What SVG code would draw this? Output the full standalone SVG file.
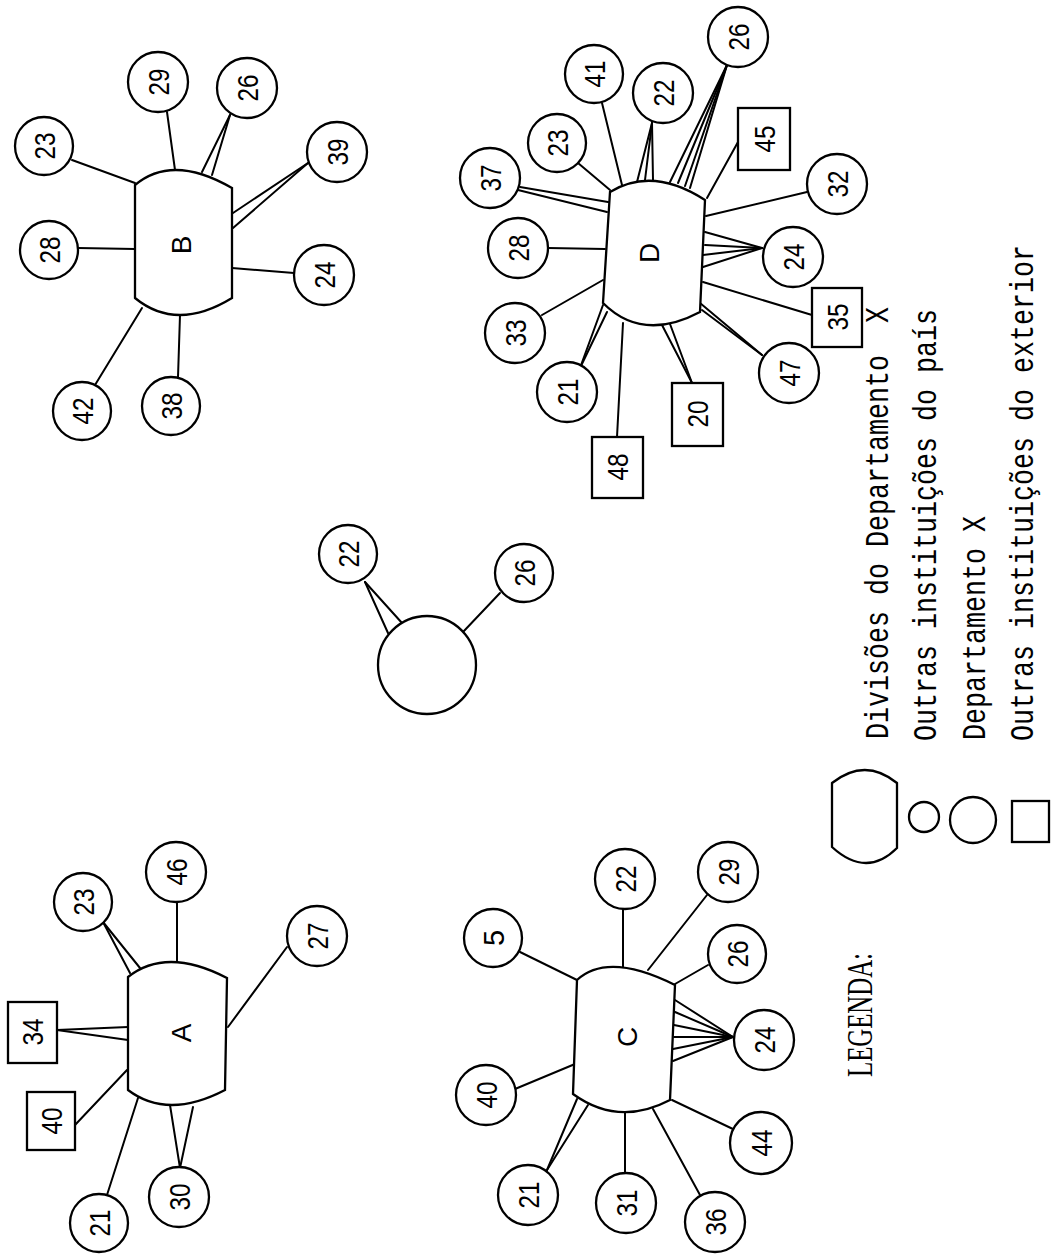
<svg xmlns="http://www.w3.org/2000/svg" width="1057" height="1257" viewBox="0 0 1057 1257">
<style>
.bg{fill:#fff}
.s{fill:#fff;stroke:#000;stroke-width:2.3}
.c line{stroke:#000;stroke-width:2;stroke-linecap:round}
.n{font-family:"Liberation Sans Narrow","Liberation Sans",Arial,sans-serif;font-size:29px;text-anchor:middle;fill:#000}
.d{font-family:"Liberation Sans",Arial,sans-serif;font-size:28px;text-anchor:middle;fill:#000}
.lg{font-family:"Liberation Serif","Times New Roman",serif;font-size:36px;fill:#000}
.lt{font-family:"Liberation Mono","Courier New",monospace;font-size:34px;fill:#000;white-space:pre}
</style>
<rect class="bg" x="0" y="0" width="1057" height="1257"/>

<g id="connectors" class="c">
<!-- B -->
<line x1="72" y1="160" x2="135" y2="183"/>
<line x1="167" y1="112" x2="175" y2="170"/>
<line x1="230" y1="115" x2="202" y2="172"/>
<line x1="230" y1="115" x2="212" y2="175"/>
<line x1="308" y1="163" x2="233" y2="213"/>
<line x1="308" y1="163" x2="233" y2="228"/>
<line x1="78" y1="248" x2="135" y2="249"/>
<line x1="232" y1="268" x2="294" y2="273"/>
<line x1="142" y1="308" x2="95" y2="385"/>
<line x1="180" y1="315" x2="178" y2="377"/>
<!-- D -->
<line x1="520" y1="187" x2="608" y2="202"/>
<line x1="518" y1="190" x2="607" y2="212"/>
<line x1="578" y1="163" x2="610" y2="190"/>
<line x1="602" y1="103" x2="622" y2="185"/>
<line x1="652" y1="123" x2="637" y2="182"/>
<line x1="652" y1="123" x2="645" y2="180"/>
<line x1="652" y1="123" x2="653" y2="180"/>
<line x1="727" y1="65" x2="670" y2="182"/>
<line x1="727" y1="65" x2="678" y2="183"/>
<line x1="727" y1="65" x2="685" y2="186"/>
<line x1="727" y1="65" x2="690" y2="188"/>
<line x1="738" y1="142" x2="707" y2="198"/>
<line x1="807" y1="192" x2="706" y2="216"/>
<line x1="548" y1="248" x2="605" y2="249"/>
<line x1="762" y1="248" x2="705" y2="232"/>
<line x1="762" y1="248" x2="705" y2="245"/>
<line x1="762" y1="248" x2="703" y2="255"/>
<line x1="762" y1="248" x2="703" y2="267"/>
<line x1="812" y1="315" x2="703" y2="282"/>
<line x1="542" y1="315" x2="603" y2="280"/>
<line x1="580" y1="368" x2="603" y2="305"/>
<line x1="580" y1="368" x2="607" y2="312"/>
<line x1="623" y1="323" x2="617" y2="437"/>
<line x1="692" y1="383" x2="662" y2="325"/>
<line x1="692" y1="383" x2="670" y2="324"/>
<line x1="762" y1="355" x2="700" y2="303"/>
<line x1="762" y1="355" x2="702" y2="310"/>
<!-- Departamento X -->
<line x1="365" y1="582" x2="388" y2="633"/>
<line x1="365" y1="582" x2="402" y2="623"/>
<line x1="500" y1="593" x2="463" y2="632"/>
<!-- A -->
<line x1="103" y1="922" x2="130" y2="973"/>
<line x1="103" y1="922" x2="140" y2="968"/>
<line x1="177" y1="903" x2="177" y2="962"/>
<line x1="287" y1="947" x2="228" y2="1027"/>
<line x1="57" y1="1030" x2="128" y2="1027"/>
<line x1="57" y1="1030" x2="128" y2="1040"/>
<line x1="75" y1="1125" x2="127" y2="1070"/>
<line x1="107" y1="1195" x2="138" y2="1098"/>
<line x1="180" y1="1168" x2="170" y2="1105"/>
<line x1="180" y1="1168" x2="193" y2="1107"/>
<!-- C -->
<line x1="520" y1="952" x2="577" y2="980"/>
<line x1="623" y1="909" x2="623" y2="967"/>
<line x1="707" y1="895" x2="648" y2="970"/>
<line x1="708" y1="965" x2="675" y2="984"/>
<line x1="733" y1="1037" x2="675" y2="1000"/>
<line x1="733" y1="1037" x2="675" y2="1012"/>
<line x1="733" y1="1037" x2="674" y2="1025"/>
<line x1="733" y1="1037" x2="674" y2="1037"/>
<line x1="733" y1="1037" x2="673" y2="1049"/>
<line x1="733" y1="1037" x2="673" y2="1061"/>
<line x1="515" y1="1089" x2="575" y2="1064"/>
<line x1="735" y1="1130" x2="672" y2="1100"/>
<line x1="547" y1="1170" x2="577" y2="1099"/>
<line x1="547" y1="1170" x2="588" y2="1105"/>
<line x1="625" y1="1174" x2="625" y2="1112"/>
<line x1="700" y1="1195" x2="653" y2="1109"/>
</g>

<!-- Division B -->
<g id="B">
<path class="s" d="M135,185 Q172.5,153.5 232,188 L232,298 Q176.5,332 135,298 Z"/>
<text class="d" transform="translate(181,245) rotate(-90)" y="10">B</text>
</g>
<g id="B-23"><circle class="s" cx="44" cy="146" r="29"/><text class="n" transform="translate(44,146) rotate(-90)" y="10.5" textLength="27" lengthAdjust="spacingAndGlyphs">23</text></g>
<g id="B-29"><circle class="s" cx="158" cy="82" r="30"/><text class="n" transform="translate(158,82) rotate(-90)" y="10.5" textLength="27" lengthAdjust="spacingAndGlyphs">29</text></g>
<g id="B-26"><circle class="s" cx="247" cy="88" r="30"/><text class="n" transform="translate(247,88) rotate(-90)" y="10.5" textLength="27" lengthAdjust="spacingAndGlyphs">26</text></g>
<g id="B-39"><circle class="s" cx="337" cy="152" r="30"/><text class="n" transform="translate(337,152) rotate(-90)" y="10.5" textLength="27" lengthAdjust="spacingAndGlyphs">39</text></g>
<g id="B-28"><circle class="s" cx="49" cy="250" r="29"/><text class="n" transform="translate(49,250) rotate(-90)" y="10.5" textLength="27" lengthAdjust="spacingAndGlyphs">28</text></g>
<g id="B-24"><circle class="s" cx="324" cy="275" r="30"/><text class="n" transform="translate(324,275) rotate(-90)" y="10.5" textLength="27" lengthAdjust="spacingAndGlyphs">24</text></g>
<g id="B-42"><circle class="s" cx="82" cy="411" r="29"/><text class="n" transform="translate(82,411) rotate(-90)" y="10.5" textLength="27" lengthAdjust="spacingAndGlyphs">42</text></g>
<g id="B-38"><circle class="s" cx="171" cy="406" r="29"/><text class="n" transform="translate(171,406) rotate(-90)" y="10.5" textLength="27" lengthAdjust="spacingAndGlyphs">38</text></g>

<!-- Division D -->
<g id="D">
<path class="s" d="M610,192 Q652.5,166 705,200 L700,312 Q642.5,342.5 603,303 Z"/>
<text class="d" transform="translate(649,253) rotate(-90)" y="10">D</text>
</g>
<g id="D-37"><circle class="s" cx="490" cy="178" r="30"/><text class="n" transform="translate(490,178) rotate(-90)" y="10.5" textLength="27" lengthAdjust="spacingAndGlyphs">37</text></g>
<g id="D-23"><circle class="s" cx="557" cy="143" r="29"/><text class="n" transform="translate(557,143) rotate(-90)" y="10.5" textLength="27" lengthAdjust="spacingAndGlyphs">23</text></g>
<g id="D-41"><circle class="s" cx="594" cy="74" r="29"/><text class="n" transform="translate(594,74) rotate(-90)" y="10.5" textLength="27" lengthAdjust="spacingAndGlyphs">41</text></g>
<g id="D-22"><circle class="s" cx="663" cy="93" r="30"/><text class="n" transform="translate(663,93) rotate(-90)" y="10.5" textLength="27" lengthAdjust="spacingAndGlyphs">22</text></g>
<g id="D-26"><circle class="s" cx="738" cy="37" r="30"/><text class="n" transform="translate(738,37) rotate(-90)" y="10.5" textLength="27" lengthAdjust="spacingAndGlyphs">26</text></g>
<g id="D-45"><rect class="s" x="738" y="108" width="52" height="62"/><text class="n" transform="translate(764,139) rotate(-90)" y="10.5" textLength="27" lengthAdjust="spacingAndGlyphs">45</text></g>
<g id="D-32"><circle class="s" cx="837" cy="184" r="30"/><text class="n" transform="translate(837,184) rotate(-90)" y="10.5" textLength="27" lengthAdjust="spacingAndGlyphs">32</text></g>
<g id="D-28"><circle class="s" cx="518" cy="248" r="30"/><text class="n" transform="translate(518,248) rotate(-90)" y="10.5" textLength="27" lengthAdjust="spacingAndGlyphs">28</text></g>
<g id="D-24"><circle class="s" cx="793" cy="257" r="30"/><text class="n" transform="translate(793,257) rotate(-90)" y="10.5" textLength="27" lengthAdjust="spacingAndGlyphs">24</text></g>
<g id="D-35"><rect class="s" x="812" y="288" width="50" height="59"/><text class="n" transform="translate(837,317) rotate(-90)" y="10.5" textLength="27" lengthAdjust="spacingAndGlyphs">35</text></g>
<g id="D-33"><circle class="s" cx="515" cy="333" r="30"/><text class="n" transform="translate(515,333) rotate(-90)" y="10.5" textLength="27" lengthAdjust="spacingAndGlyphs">33</text></g>
<g id="D-47"><circle class="s" cx="789" cy="373" r="30"/><text class="n" transform="translate(789,373) rotate(-90)" y="10.5" textLength="27" lengthAdjust="spacingAndGlyphs">47</text></g>
<g id="D-21"><circle class="s" cx="567" cy="392" r="30"/><text class="n" transform="translate(567,392) rotate(-90)" y="10.5" textLength="27" lengthAdjust="spacingAndGlyphs">21</text></g>
<g id="D-20"><rect class="s" x="672" y="383" width="51" height="63"/><text class="n" transform="translate(697,414) rotate(-90)" y="10.5" textLength="27" lengthAdjust="spacingAndGlyphs">20</text></g>
<g id="D-48"><rect class="s" x="592" y="437" width="51" height="61"/><text class="n" transform="translate(617,467) rotate(-90)" y="10.5" textLength="27" lengthAdjust="spacingAndGlyphs">48</text></g>

<!-- Departamento X -->
<g id="X"><circle class="s" cx="427" cy="665" r="49"/></g>
<g id="X-22"><circle class="s" cx="348" cy="554" r="29"/><text class="n" transform="translate(348,554) rotate(-90)" y="10.5" textLength="27" lengthAdjust="spacingAndGlyphs">22</text></g>
<g id="X-26"><circle class="s" cx="524" cy="573" r="29"/><text class="n" transform="translate(524,573) rotate(-90)" y="10.5" textLength="27" lengthAdjust="spacingAndGlyphs">26</text></g>

<!-- Division A -->
<g id="A">
<path class="s" d="M128,977 Q166.5,946.5 227,978 L225,1090 Q167.5,1120 128,1090 Z"/>
<text class="d" transform="translate(181,1033) rotate(-90)" y="10">A</text>
</g>
<g id="A-23"><circle class="s" cx="83" cy="902" r="29"/><text class="n" transform="translate(83,902) rotate(-90)" y="10.5" textLength="27" lengthAdjust="spacingAndGlyphs">23</text></g>
<g id="A-46"><circle class="s" cx="176" cy="872" r="30"/><text class="n" transform="translate(176,872) rotate(-90)" y="10.5" textLength="27" lengthAdjust="spacingAndGlyphs">46</text></g>
<g id="A-27"><circle class="s" cx="317" cy="936" r="30"/><text class="n" transform="translate(317,936) rotate(-90)" y="10.5" textLength="27" lengthAdjust="spacingAndGlyphs">27</text></g>
<g id="A-34"><rect class="s" x="8" y="1002" width="49" height="61"/><text class="n" transform="translate(32,1032) rotate(-90)" y="10.5" textLength="27" lengthAdjust="spacingAndGlyphs">34</text></g>
<g id="A-40"><rect class="s" x="27" y="1092" width="48" height="58"/><text class="n" transform="translate(51,1121) rotate(-90)" y="10.5" textLength="27" lengthAdjust="spacingAndGlyphs">40</text></g>
<g id="A-21"><circle class="s" cx="99" cy="1223" r="29"/><text class="n" transform="translate(99,1223) rotate(-90)" y="10.5" textLength="27" lengthAdjust="spacingAndGlyphs">21</text></g>
<g id="A-30"><circle class="s" cx="179" cy="1197" r="30"/><text class="n" transform="translate(179,1197) rotate(-90)" y="10.5" textLength="27" lengthAdjust="spacingAndGlyphs">30</text></g>

<!-- Division C -->
<g id="C">
<path class="s" d="M577,980 Q608,951.5 675,985 L670,1100 Q618.5,1127 573,1094 Z"/>
<text class="d" transform="translate(627,1037) rotate(-90)" y="10">C</text>
</g>
<g id="C-5"><circle class="s" cx="493" cy="938" r="29"/><text class="n" transform="translate(493,938) rotate(-90)" y="10.5">5</text></g>
<g id="C-22"><circle class="s" cx="625" cy="879" r="30"/><text class="n" transform="translate(625,879) rotate(-90)" y="10.5" textLength="27" lengthAdjust="spacingAndGlyphs">22</text></g>
<g id="C-29"><circle class="s" cx="728" cy="872" r="30"/><text class="n" transform="translate(728,872) rotate(-90)" y="10.5" textLength="27" lengthAdjust="spacingAndGlyphs">29</text></g>
<g id="C-26"><circle class="s" cx="737" cy="954" r="29"/><text class="n" transform="translate(737,954) rotate(-90)" y="10.5" textLength="27" lengthAdjust="spacingAndGlyphs">26</text></g>
<g id="C-24"><circle class="s" cx="764" cy="1040" r="30"/><text class="n" transform="translate(764,1040) rotate(-90)" y="10.5" textLength="27" lengthAdjust="spacingAndGlyphs">24</text></g>
<g id="C-40"><circle class="s" cx="486" cy="1095" r="30"/><text class="n" transform="translate(486,1095) rotate(-90)" y="10.5" textLength="27" lengthAdjust="spacingAndGlyphs">40</text></g>
<g id="C-44"><circle class="s" cx="761" cy="1143" r="31"/><text class="n" transform="translate(761,1143) rotate(-90)" y="10.5" textLength="27" lengthAdjust="spacingAndGlyphs">44</text></g>
<g id="C-21"><circle class="s" cx="528" cy="1195" r="30"/><text class="n" transform="translate(528,1195) rotate(-90)" y="10.5" textLength="27" lengthAdjust="spacingAndGlyphs">21</text></g>
<g id="C-31"><circle class="s" cx="626" cy="1203" r="30"/><text class="n" transform="translate(626,1203) rotate(-90)" y="10.5" textLength="27" lengthAdjust="spacingAndGlyphs">31</text></g>
<g id="C-36"><circle class="s" cx="715" cy="1222" r="30"/><text class="n" transform="translate(715,1222) rotate(-90)" y="10.5" textLength="27" lengthAdjust="spacingAndGlyphs">36</text></g>

<!-- Legend -->
<g id="legend">
<text class="lg" transform="translate(872,1077) rotate(-90)" textLength="124" lengthAdjust="spacingAndGlyphs">LEGENDA:</text>
<path class="s" d="M832,783 Q865,757 897,783 L897,848 Q866.5,878.5 832,847 Z"/>
<circle class="s" cx="924" cy="817" r="15"/>
<circle class="s" cx="973" cy="820" r="23"/>
<rect class="s" x="1012" y="801" width="37" height="41"/>
<text class="lt" transform="translate(888,739) rotate(-90)" textLength="432" lengthAdjust="spacingAndGlyphs">Divisões do Departamento  X</text>
<text class="lt" transform="translate(936,741) rotate(-90)" textLength="432" lengthAdjust="spacingAndGlyphs">Outras instituições do país</text>
<text class="lt" transform="translate(985,740) rotate(-90)" textLength="224" lengthAdjust="spacingAndGlyphs">Departamento X</text>
<text class="lt" transform="translate(1033,741) rotate(-90)" textLength="496" lengthAdjust="spacingAndGlyphs">Outras instituições do exterior</text>
</g>
</svg>
